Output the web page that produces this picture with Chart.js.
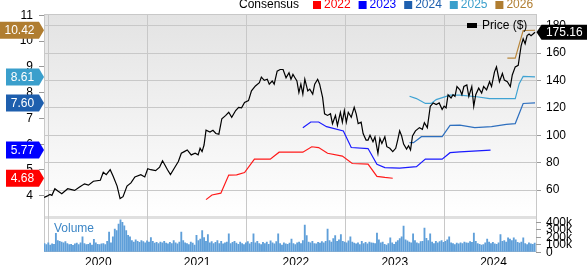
<!DOCTYPE html>
<html lang="en">
<head>
<meta charset="UTF-8">
<title>Price, Consensus and Volume</title>
<script src="https://cdn.jsdelivr.net/npm/chart.js"></script>
<style>
  html, body { margin: 0; padding: 0; background: #fff; }
  canvas { display: block; }
</style>
</head>
<body>
<canvas id="chart" width="587" height="265"></canvas>
<script>
const FONT = 'Arial, "Liberation Sans", sans-serif';

// axis ticks
const yearTicks = [2020, 2021, 2022, 2023, 2024];
const epsTicks = [4, 5, 6, 7, 8, 9, 10, 11];
const priceTicks = [60, 80, 100, 120, 140, 160, 180];
const volumeTicks = [0, 100000, 200000, 300000, 400000];
const volumeTickLabels = ['0', '100k', '200k', '300k', '400k'];

// price (decimal year, $)
const priceDates = [2019.45,2019.48,2019.51,2019.53,2019.56,2019.59,2019.63,2019.69,2019.76,2019.81,
  2019.86,2019.90,2019.95,2020.02,2020.05,2020.08,2020.12,2020.15,2020.19,2020.22,
  2020.25,2020.29,2020.33,2020.37,2020.43,2020.47,2020.50,2020.53,2020.58,2020.62,
  2020.65,2020.70,2020.73,2020.77,2020.81,2020.84,2020.87,2020.90,2020.94,2020.98,
  2021.01,2021.03,2021.05,2021.07,2021.09,2021.13,2021.16,2021.19,2021.22,2021.25,
  2021.29,2021.32,2021.35,2021.39,2021.42,2021.45,2021.48,2021.52,2021.55,2021.59,
  2021.63,2021.65,2021.68,2021.71,2021.73,2021.76,2021.78,2021.81,2021.84,2021.87,
  2021.90,2021.93,2021.95,2021.97,2021.99,2022.01,2022.03,2022.05,2022.07,2022.09,
  2022.12,2022.14,2022.17,2022.19,2022.22,2022.24,2022.27,2022.29,2022.32,2022.35,
  2022.37,2022.40,2022.42,2022.45,2022.47,2022.49,2022.51,2022.53,2022.56,2022.59,
  2022.61,2022.63,2022.66,2022.68,2022.71,2022.73,2022.75,2022.78,2022.80,2022.83,
  2022.85,2022.87,2022.90,2022.92,2022.95,2022.98,2023.01,2023.03,2023.05,2023.07,
  2023.09,2023.12,2023.14,2023.16,2023.18,2023.21,2023.25,2023.28,2023.30,2023.33,
  2023.36,2023.39,2023.42,2023.45,2023.48,2023.50,2023.52,2023.54,2023.57,2023.59,
  2023.61,2023.63,2023.66,2023.68,2023.70,2023.73,2023.75,2023.78,2023.80,2023.82,
  2023.85,2023.88,2023.90,2023.93,2023.96,2023.98,2024.01,2024.03,2024.06,2024.09,
  2024.11,2024.14,2024.17,2024.19,2024.22,2024.25,2024.26,2024.28,2024.30,2024.32,
  2024.34,2024.36,2024.38,2024.40,2024.42];
const priceValues = [54.6,55.6,56.9,56.2,61,59.3,57.4,61,59.8,62.2,
  64.6,63.6,66.5,67.2,73,71.3,74.9,70.1,62.9,53.8,
  55.2,62.9,65.3,69.6,71.3,69.6,75.6,74.9,74.2,76.8,
  81.4,74.9,71.3,76.1,80.9,86.9,88.1,89.3,85.7,86.9,
  85.7,90.5,88.1,92.9,103.7,102.4,103.7,101.3,100.8,112.1,
  114.5,116.8,113.2,118.1,120.4,120,124,125.3,132.4,136,
  138.4,142.5,140.1,140.9,137.3,139.6,137.3,146.8,148,148,
  142,145.6,140.9,144.4,142,139.6,131.2,137.3,130.1,140.9,
  132.4,133.7,130.1,137.3,140.9,137.3,127.6,115.7,114.5,115.7,
  108.5,114.5,107.3,116.8,109.6,118.1,109.6,116.8,113.2,120.4,
  115.7,108.5,109.6,101.3,96.5,96.5,100.1,95.3,98.9,86.9,
  97.7,94.1,98.9,91.7,90.5,88.1,90.5,96.5,103.2,99.6,
  93.6,90,92.4,89.3,99.6,103.2,105.6,104.4,109.2,105.6,
  121.2,123.6,122.4,123.6,118.8,121.2,120,129.6,127.2,129.6,
  128.4,135.6,133.2,129.6,135.6,136.8,128.4,135.6,121.2,129.6,
  134.4,130.8,135.6,133.2,139.1,135.6,146.3,149.9,139.1,145.1,
  140.3,139.1,135.6,144,149.9,151.1,156,165.5,170.4,166.8,
  172.7,173.9,172.7,173.9,175.16];

// consensus EPS by fiscal year
const eps2022Dates = [2021.09,2021.15,2021.24,2021.32,2021.40,2021.48,2021.58,2021.74,2021.83,2022.07,2022.16,2022.23,2022.32,2022.47,2022.57,2022.73,2022.82,2022.90,2022.98];
const eps2022Values = [3.85,4.03,4.10,4.80,4.81,4.90,5.42,5.42,5.69,5.69,5.90,5.87,5.65,5.54,5.25,5.23,4.75,4.71,4.68];
const eps2023Dates = [2022.07,2022.15,2022.23,2022.31,2022.48,2022.56,2022.73,2022.82,2022.90,2023.05,2023.22,2023.31,2023.48,2023.56,2023.66,2023.97];
const eps2023Values = [6.64,6.86,6.86,6.68,6.51,5.87,5.83,5.22,5.09,5.07,5.13,5.42,5.42,5.67,5.70,5.77];
const eps2024Dates = [2023.15,2023.19,2023.27,2023.48,2023.56,2023.66,2023.81,2023.98,2024.13,2024.22,2024.30,2024.42];
const eps2024Values = [6.06,6.06,6.29,6.29,6.73,6.74,6.64,6.68,6.77,6.80,7.58,7.60];
const eps2025Dates = [2023.15,2023.22,2023.31,2023.37,2023.42,2023.56,2023.66,2023.83,2023.96,2024.22,2024.26,2024.30,2024.42];
const eps2025Values = [7.86,7.77,7.58,7.58,7.73,7.90,7.90,7.84,7.77,7.77,8.35,8.63,8.61];
const eps2026Dates = [2024.14,2024.22,2024.30,2024.42];
const eps2026Values = [9.34,9.34,10.41,10.42];

// weekly volume (thousands of shares), first week at volumeStart
const volumeStart = 2019.455;
const volumeValues = [110,95,120,90,105,100,245,150,140,130,
  120,135,110,95,100,85,105,115,95,120,
  200,110,95,100,115,90,165,120,100,95,
  105,110,95,140,260,120,200,303,280,368,
  425,390,345,280,220,200,150,130,160,140,
  125,150,135,120,145,130,190,140,115,125,
  110,130,120,140,115,105,125,110,150,120,
  105,130,260,150,120,110,95,130,115,90,
  220,150,170,280,190,140,230,120,135,110,
  125,150,110,140,105,120,130,240,110,125,
  140,115,100,130,110,95,120,135,105,125,
  240,120,140,110,95,125,110,130,100,145,
  120,105,135,240,110,90,120,105,100,115,
  170,110,95,120,130,110,150,355,215,130,
  120,140,110,105,125,115,135,120,140,300,
  150,130,175,215,140,160,228,140,130,120,
  145,200,130,115,105,120,95,140,110,125,
  105,130,120,115,110,250,160,120,130,100,
  90,110,185,120,100,130,150,175,200,340,
  160,145,130,120,237,150,120,110,135,140,
  315,180,150,237,130,110,140,120,135,150,
  125,140,160,200,120,110,95,115,105,120,
  110,130,120,115,135,125,250,140,110,100,
  90,95,120,170,130,110,125,105,100,120,
  228,140,150,130,185,170,150,185,160,125,
  115,130,185,110,95,120,105,100,115];

const series = [
  { label: '2022', dates: eps2022Dates, values: eps2022Values, color: '#ff1a1a', tag: '#ff0000' },
  { label: '2023', dates: eps2023Dates, values: eps2023Values, color: '#1a1aff', tag: '#0000ff' },
  { label: '2024', dates: eps2024Dates, values: eps2024Values, color: '#2e6fbe', tag: '#1e5fae' },
  { label: '2025', dates: eps2025Dates, values: eps2025Values, color: '#40a3d3', tag: '#3a9fcc' },
  { label: '2026', dates: eps2026Dates, values: eps2026Values, color: '#b8863b', tag: '#b07d30' }
];

function zip(xs, ys) {
  return xs.map((x, i) => ({ x: x, y: ys[i] }));
}

function drawTag(ctx, x0, tip, y, h, color, text, pointRight) {
  ctx.fillStyle = color;
  ctx.beginPath();
  if (pointRight) {
    ctx.moveTo(x0, y - h / 2);
    ctx.lineTo(tip - 5, y - h / 2);
    ctx.lineTo(tip, y);
    ctx.lineTo(tip - 5, y + h / 2);
    ctx.lineTo(x0, y + h / 2);
  } else {
    ctx.moveTo(x0, y - h / 2);
    ctx.lineTo(tip + 5, y - h / 2);
    ctx.lineTo(tip, y);
    ctx.lineTo(tip + 5, y + h / 2);
    ctx.lineTo(x0, y + h / 2);
  }
  ctx.closePath();
  ctx.fill();
  ctx.fillStyle = '#fff';
  ctx.textAlign = 'center';
  ctx.textBaseline = 'middle';
  const mid = pointRight ? (x0 + tip - 5) / 2 : (x0 + tip + 5) / 2;
  ctx.fillText(text, mid, y + 0.5);
}

// backgrounds for the price panel and the volume panel
const panelBackground = {
  id: 'panelBackground',
  beforeDraw(chart) {
    const { ctx, chartArea: a } = chart;
    const split = 216;
    const g = ctx.createLinearGradient(0, a.top, 0, split);
    g.addColorStop(0, '#e3e3e3');
    g.addColorStop(1, '#ffffff');
    ctx.save();
    ctx.fillStyle = g;
    ctx.fillRect(a.left, a.top, a.right - a.left, split - a.top);
    ctx.fillStyle = '#e0e0e0';
    ctx.fillRect(a.left, split, a.right - a.left, 3);
    ctx.restore();
  }
};

// labels, legend and value tags
const overlay = {
  id: 'overlay',
  afterDraw(chart) {
    const { ctx, chartArea: a, scales } = chart;
    ctx.save();

    // top border
    ctx.strokeStyle = '#c8c8c8';
    ctx.lineWidth = 1;
    ctx.beginPath();
    ctx.moveTo(a.left, a.top + 0.5);
    ctx.lineTo(a.right, a.top + 0.5);
    ctx.stroke();

    // year labels
    ctx.font = '12px ' + FONT;
    ctx.fillStyle = '#000';
    ctx.textAlign = 'center';
    ctx.textBaseline = 'alphabetic';
    yearTicks.forEach(y => {
      ctx.fillText(String(y), scales.x.getPixelForValue(y), 265.5);
    });

    // volume axis
    ctx.textAlign = 'left';
    ctx.textBaseline = 'middle';
    ctx.strokeStyle = '#999';
    volumeTicks.forEach((v, i) => {
      const py = Math.round(scales.yVol.getPixelForValue(v)) + 0.5;
      ctx.beginPath();
      ctx.moveTo(a.right, py);
      ctx.lineTo(a.right + 5, py);
      ctx.stroke();
      ctx.fillText(volumeTickLabels[i], a.right + 10, py);
    });

    ctx.fillStyle = '#3c86c6';
    ctx.fillText('Volume', 54, 229);

    // legend
    ctx.fillStyle = '#000';
    ctx.fillText('Consensus', 239, 5);
    series.forEach((s, i) => {
      const x = 313 + i * 45.6;
      ctx.fillStyle = s.tag;
      ctx.fillRect(x, 1, 8, 8);
      ctx.fillStyle = s.tag;
      ctx.fillText(s.label, x + 11, 5);
    });

    ctx.fillStyle = '#000';
    ctx.fillRect(467, 23, 10, 5);
    ctx.fillText('Price ($)', 482, 25.5);

    // value tags on the left (last consensus values)
    ctx.font = '12px ' + FONT;
    series.slice().reverse().forEach(s => {
      const last = s.values[s.values.length - 1];
      const py = scales.yEps.getPixelForValue(last);
      const x0 = last >= 10 ? 0 : 6;
      drawTag(ctx, x0, a.left, py, 17, s.tag, last.toFixed(2), true);
    });

    // last price tag on the right
    const lastPrice = priceValues[priceValues.length - 1];
    drawTag(ctx, chart.width, a.right + 0.5, scales.yPrice.getPixelForValue(lastPrice), 15, '#000', lastPrice.toFixed(2), false);

    ctx.restore();
  }
};

const datasets = [
  {
    type: 'line',
    label: 'Price ($)',
    data: zip(priceDates, priceValues),
    yAxisID: 'yPrice',
    borderColor: '#000',
    borderWidth: 1.2,
    pointRadius: 0,
    tension: 0,
    order: 0
  }
];
series.forEach((s, i) => {
  datasets.push({
    type: 'line',
    label: s.label,
    data: zip(s.dates, s.values),
    yAxisID: 'yEps',
    borderColor: s.color,
    borderWidth: 1.2,
    pointRadius: 0,
    tension: 0,
    order: 1 + i
  });
});
datasets.push({
  type: 'bar',
  label: 'Volume',
  data: volumeValues.map((v, i) => ({ x: volumeStart + i / 52, y: v * 1000 })),
  yAxisID: 'yVol',
  backgroundColor: '#5f9fd9',
  barThickness: 1.2,
  grouped: false,
  order: 10
});

const ctx = document.getElementById('chart').getContext('2d');
new Chart(ctx, {
  type: 'line',
  data: { datasets: datasets },
  options: {
    responsive: false,
    animation: false,
    events: [],
    layout: { padding: { top: 14, left: 0, right: 0, bottom: 0 } },
    plugins: { legend: { display: false }, tooltip: { enabled: false } },
    scales: {
      x: {
        type: 'linear',
        min: 2019.45,
        max: 2024.43,
        offset: false,
        afterBuildTicks: s => { s.ticks = yearTicks.map(v => ({ value: v })); },
        afterFit: s => { s.height = 12; },
        ticks: { display: false },
        grid: { color: '#c8c8c8', drawTicks: false },
        border: { display: true, color: '#c8c8c8' }
      },
      yEps: {
        position: 'left',
        min: 1.826,
        max: 11.05,
        afterBuildTicks: s => { s.ticks = epsTicks.map(v => ({ value: v })); },
        afterFit: s => { s.width = 44; },
        ticks: { font: { family: FONT, size: 12 }, color: '#000', padding: 6 },
        grid: { drawOnChartArea: false, tickLength: 5, color: '#999' },
        border: { display: true, color: '#c8c8c8' }
      },
      yPrice: {
        position: 'right',
        min: 15.0,
        max: 188.5,
        afterBuildTicks: s => { s.ticks = priceTicks.map(v => ({ value: v })); },
        afterFit: s => { s.width = 51; },
        ticks: { font: { family: FONT, size: 12 }, color: '#000', padding: 5 },
        grid: { color: '#c8c8c8', tickLength: 5, tickColor: '#999' },
        border: { display: true, color: '#c8c8c8' }
      },
      yVol: {
        display: false,
        min: 0,
        max: 3155000
      }
    }
  },
  plugins: [panelBackground, overlay]
});
</script>
</body>
</html>
